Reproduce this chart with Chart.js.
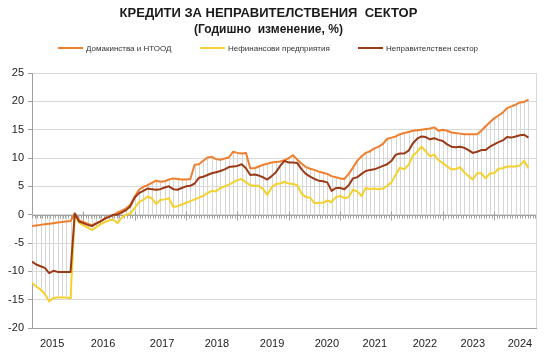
<!DOCTYPE html>
<html><head><meta charset="utf-8">
<script src="https://cdn.jsdelivr.net/npm/chart.js@4.4.0/dist/chart.umd.min.js"></script>
<style>
html,body{margin:0;padding:0;background:#fff;}
#wrap{position:relative;width:550px;height:355px;}
#legend{position:absolute;left:0;top:43px;width:550px;height:12px;font:8px 'Liberation Sans',Arial,sans-serif;color:#333;}
.li{position:absolute;top:0;height:12px;line-height:12px;white-space:nowrap;}
.sw{display:inline-block;width:25px;height:2px;vertical-align:middle;margin-right:3px;position:relative;top:-1px;}
</style></head><body>
<div id="wrap"><canvas id="c" width="550" height="355"></canvas><div id="legend"></div></div>
<script>
// ---- data ----
const seriesNames = ['Домакинства и НТООД', 'Нефинансови предприятия', 'Неправителствен сектор'];
const yearLabels = ['2015','2016','2017','2018','2019','2020','2021','2022','2023','2024'];
const firstYear = 2015, monthCount = 117; // Jan 2015 .. Sep 2024
const months = [];
for (let i = 0; i < monthCount; i++) {
  const y = firstYear + Math.floor(i / 12), m = (i % 12) + 1;
  months.push(y + '-' + (m < 10 ? '0' : '') + m);
}
const households = [
 -2.0,-1.9,-1.8,-1.7,-1.6,-1.5,-1.4,-1.3,-1.2,-1.1, 0.2,
 -1.0,-1.3,-1.6,-1.9,-1.5,-1.2,-0.7,-0.4,-0.1,0.4,0.7,1.1,1.8,
 3.2,4.4,4.9,5.2,5.6,6.0,5.8,5.9,6.2,6.4,6.3,6.2,6.2,6.3,
 8.8,8.9,9.5,10.1,10.2,9.8,9.7,9.9,10.1,11.1,10.9,10.8,10.9,
 8.2,8.2,8.5,8.8,9.0,9.2,
 9.3,9.4,9.6,10.0,10.5,9.7,9.0,8.4,8.1,7.9,7.6,7.4,7.2,6.8,6.6,6.4,6.3,
 7.2,8.3,9.5,10.3,10.9,11.2,11.7,12.0,12.5,13.4,13.6,13.8,14.2,14.4,14.6,14.8,14.9,15.0,15.1,15.2,15.4,
 14.8,15.0,14.8,14.5,14.4,14.3,14.2,14.2,14.2,14.2,14.8,15.6,16.3,17.0,17.5,18.0,18.8,19.1,19.4,19.8,19.9,20.3
];
const corporates = [
 -12.0,-12.7,-13.2,-14.0,-15.3,-14.7,-14.6,-14.6,-14.6,-14.8, 0.0,
 -1.4,-1.9,-2.3,-2.7,-2.2,-1.7,-1.3,-1.0,-0.9,-1.5,-0.5,0.0,0.2,
 1.2,2.2,2.6,3.2,2.9,1.9,2.6,2.7,2.9,1.4,1.5,1.8,2.1,2.4,
 2.7,3.0,3.3,3.8,4.2,4.1,4.7,5.0,5.3,5.7,6.1,6.3,5.7,
 5.2,5.1,5.1,4.5,3.5,4.8,
 5.4,5.5,5.8,5.5,5.4,5.2,3.7,3.1,3.0,2.0,2.1,2.1,2.5,2.2,3.1,3.3,2.9,
 3.1,4.4,4.1,3.3,4.7,4.5,4.6,4.5,4.6,5.1,5.7,7.1,8.3,8.0,8.8,10.4,11.1,12.0,11.2,10.3,10.6,
 9.6,9.1,8.5,8.0,8.0,8.4,7.5,6.8,6.2,7.3,7.3,6.4,7.3,7.3,8.1,8.2,8.5,8.5,8.5,8.7,9.5,8.2
];
const nonGov = [
 -8.3,-8.8,-9.1,-9.4,-10.3,-9.9,-10.1,-10.1,-10.1,-10.1, 0.2,
 -1.2,-1.5,-1.8,-2.0,-1.6,-1.2,-0.7,-0.4,0.0,0.0,0.4,0.8,1.5,
 3.0,3.8,4.2,4.6,4.5,4.4,4.5,4.8,5.0,4.5,4.4,4.7,5.0,5.1,
 5.5,6.5,6.7,7.0,7.3,7.5,7.7,8.0,8.4,8.5,8.6,8.9,8.2,
 7.0,7.1,6.9,6.6,6.2,6.8,
 7.5,8.6,9.5,9.2,9.2,9.1,8.0,7.2,6.7,6.3,6.0,5.9,5.7,4.2,4.7,4.7,4.5,
 5.2,6.4,6.6,7.2,7.7,7.9,8.0,8.3,8.6,8.9,9.5,10.6,10.8,10.8,11.3,12.6,13.4,13.8,13.7,13.3,13.5,
 13.2,13.0,12.4,12.0,11.9,12.0,11.8,11.4,10.9,11.1,11.4,11.4,12.0,12.4,12.8,13.1,13.7,13.6,13.8,14.0,14.1,13.6
];
const yTicks = [-20,-15,-10,-5,0,5,10,15,20,25];

// ---- styles / layout ----
const F = "'Liberation Sans', Arial, sans-serif";
const colors = ['#EF7F2D', '#F4D12E', '#9B3A16'];
const legendX = [58, 200, 358];
const yearTickPos = [4.7, 16.6, 30.4, 43.2, 56.1, 68.9, 80.1, 91.8, 103.0, 114.0];

// legend (HTML)
const lg = document.getElementById('legend');
seriesNames.forEach((n, k) => {
  const d = document.createElement('div');
  d.className = 'li'; d.style.left = legendX[k] + 'px';
  d.innerHTML = '<span class="sw" style="background:' + colors[k] + '"></span>' + n;
  lg.appendChild(d);
});

const toXY = arr => arr.map((v, i) => ({ x: i, y: v }));

const dropLines = {
  id: 'dropLines',
  beforeDatasetsDraw(chart) {
    const { ctx, scales: { x, y } } = chart;
    const y0 = y.getPixelForValue(0);
    ctx.save();
    ctx.strokeStyle = '#d6d6d6'; ctx.lineWidth = 1;
    ctx.beginPath();
    for (let i = 0; i < monthCount; i++) {
      const vals = [households[i], corporates[i], nonGov[i]];
      const hi = Math.max(0, ...vals), lo = Math.min(0, ...vals);
      const px = Math.round(x.getPixelForValue(i)) + 0.5;
      ctx.moveTo(px, y.getPixelForValue(hi));
      ctx.lineTo(px, y.getPixelForValue(lo));
    }
    ctx.stroke();
    // zero axis with ticks
    const yz = Math.round(y0) + 0.5;
    ctx.strokeStyle = '#a0a0a0';
    ctx.beginPath();
    ctx.moveTo(chart.chartArea.left, yz); ctx.lineTo(chart.chartArea.right, yz);
    for (let m = 0; m <= x.max + 0.001; m += 0.6) {
      const px = Math.round(x.getPixelForValue(m)) + 0.5;
      ctx.moveTo(px, yz); ctx.lineTo(px, yz + 3);
    }
    for (let m = 12; m <= x.max; m += 12) {
      const px = Math.round(x.getPixelForValue(m)) + 0.5;
      ctx.moveTo(px, yz - 4); ctx.lineTo(px, yz + 5);
    }
    ctx.stroke();
    // right border
    ctx.strokeStyle = '#d9d9d9';
    ctx.beginPath();
    ctx.moveTo(chart.chartArea.right - 0.5, chart.chartArea.top);
    ctx.lineTo(chart.chartArea.right - 0.5, chart.chartArea.bottom);
    ctx.stroke();
    ctx.restore();
  }
};

new Chart(document.getElementById('c'), {
  type: 'line',
  data: {
    datasets: [
      { label: seriesNames[2], data: toXY(nonGov), borderColor: colors[2], order: 0 },
      { label: seriesNames[0], data: toXY(households), borderColor: colors[0], order: 1 },
      { label: seriesNames[1], data: toXY(corporates), borderColor: colors[1], order: 2 }
    ]
  },
  options: {
    responsive: false,
    animation: false,
    layout: { padding: { left: 0, right: 13, top: 0, bottom: 0 } },
    elements: { point: { radius: 0 }, line: { borderWidth: 2, tension: 0, fill: false, borderJoinStyle: 'round' } },
    plugins: {
      legend: { display: false },
      tooltip: { enabled: false },
      title: { display: true, text: 'КРЕДИТИ ЗА НЕПРАВИТЕЛСТВЕНИЯ  СЕКТОР', color: '#1a1a1a',
        font: { family: F, size: 13, weight: 'bold' }, padding: { top: 6, bottom: 0 } },
      subtitle: { display: true, text: '(Годишно  изменение, %)', color: '#1a1a1a',
        font: { family: F, size: 12, weight: 'bold' }, padding: { top: 1, bottom: 36 } }
    },
    scales: {
      x: {
        type: 'linear', min: 0, max: 118, position: 'bottom',
        grid: { display: false, drawTicks: false }, border: { display: false },
        ticks: { autoSkip: false, maxRotation: 0, padding: 9, color: '#222', font: { family: F, size: 11 },
          callback: (v, i) => yearLabels[i] },
        afterBuildTicks: s => { s.ticks = yearTickPos.map(v => ({ value: v })); },
        afterFit: s => { s.height = 27; }
      },
      y: {
        min: -20, max: 25,
        afterBuildTicks: s => { s.ticks = yTicks.map(v => ({ value: v })); },
        ticks: { color: '#222', font: { family: F, size: 11 }, padding: 4 },
        grid: { color: c => (c.tick && c.tick.value === -20) ? '#a0a0a0' : '#d9d9d9', tickColor: '#a0a0a0', tickLength: 4 },
        border: { color: '#a0a0a0' },
        afterFit: s => { s.width = 32; }
      }
    }
  },
  plugins: [dropLines]
});
</script>
</body></html>
